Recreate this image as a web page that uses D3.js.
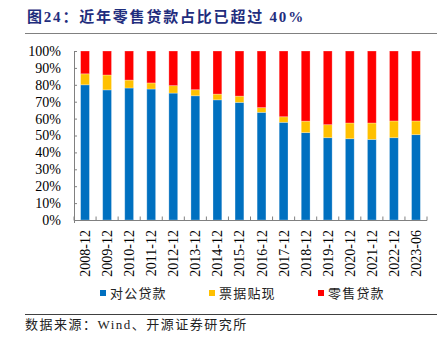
<!DOCTYPE html>
<html>
<head>
<meta charset="utf-8">
<script src="https://cdn.jsdelivr.net/npm/d3@7/dist/d3.min.js"></script>
<style>
  html, body { margin: 0; padding: 0; background: #fff; }
  svg { display: block; }
</style>
</head>
<body>
<svg id="chart" width="444" height="345"></svg>
<script>
// Loan mix by period (% of total loans)
const periods = ["2008-12","2009-12","2010-12","2011-12","2012-12","2013-12","2014-12","2015-12",
                 "2016-12","2017-12","2018-12","2019-12","2020-12","2021-12","2022-12","2023-06"];
const corporate = [80.0, 77.0, 78.1, 77.5, 75.1, 73.5, 71.1, 69.6, 63.7, 57.8, 51.7, 48.7, 48.1, 47.7, 48.7, 50.5];
const discount  = [6.5, 8.8, 4.7, 3.6, 4.4, 3.6, 3.4, 3.7, 2.8, 3.3, 6.8, 7.7, 9.3, 9.7, 9.9, 8.1];
const retail    = [13.5, 14.2, 17.2, 18.9, 20.5, 22.9, 25.5, 26.7, 33.5, 38.9, 41.5, 43.6, 42.6, 42.6, 41.4, 41.4];
const seriesNames = ["对公贷款", "票据贴现", "零售贷款"];
const seriesColors = ["#0070C0", "#FFC000", "#FF0000"];
const yTicks = [0, 10, 20, 30, 40, 50, 60, 70, 80, 90, 100];

const svg = d3.select("#chart");
const serif = "'Liberation Serif','Times New Roman','Noto Sans CJK SC',serif";
const cjk = "'Liberation Serif','Noto Sans CJK SC',sans-serif";

// Title and rule
svg.append("text")
  .attr("x", 27).attr("y", 22)
  .attr("font-family", cjk).attr("font-weight", "bold")
  .attr("font-size", 15).attr("letter-spacing", 1.8)
  .attr("fill", "#1f2d7d")
  .text("图24：近年零售贷款占比已超过 40%");
svg.append("line")
  .attr("x1", 25).attr("x2", 437).attr("y1", 33.5).attr("y2", 33.5)
  .attr("stroke", "#808080").attr("stroke-width", 1.2);

// Plot area
const plotL = 74, plotR = 427, plotT = 51, plotB = 220;
const x = d3.scaleBand().domain(periods).range([plotL, plotR]).paddingInner(0.6).paddingOuter(0.3);
const y = d3.scaleLinear().domain([0, 100]).range([plotB, plotT]);

// Stack the three series
const rows = periods.map((p, i) => ({ period: p, a: corporate[i], b: discount[i], c: retail[i] }));
const stack = d3.stack().keys(["a", "b", "c"])(rows);

svg.append("g").selectAll("g")
  .data(stack).join("g")
  .attr("fill", (d, i) => seriesColors[i])
  .selectAll("rect")
  .data(d => d).join("rect")
  .attr("x", d => x(d.data.period))
  .attr("width", x.bandwidth())
  .attr("y", d => y(d[1]))
  .attr("height", d => y(d[0]) - y(d[1]))
  .attr("stroke", "rgba(255,255,255,0.35)")
  .attr("stroke-width", 0.8);

// Y axis with inward ticks
const yAxis = d3.axisLeft(y).tickValues(yTicks).tickFormat(d => d + "%").tickSize(-3).tickPadding(13);
const gy = svg.append("g").attr("transform", `translate(${plotL},0)`).call(yAxis);
gy.select(".domain").attr("stroke", "#808080").attr("d", `M0.5,${plotT}V${plotB + 3}`);
gy.selectAll(".tick line").attr("stroke", "#808080");
gy.selectAll(".tick text")
  .attr("font-family", serif).attr("font-size", 14).attr("fill", "#000");

// X axis: boundary ticks pointing up, rotated labels
const gx = svg.append("g").attr("transform", `translate(0,${plotB})`);
gx.append("line")
  .attr("x1", plotL).attr("x2", plotR).attr("y1", 0.5).attr("y2", 0.5)
  .attr("stroke", "#808080");
gx.selectAll("line.tk")
  .data(d3.range(periods.length + 1)).join("line")
  .attr("class", "tk")
  .attr("x1", i => plotL + i * (plotR - plotL) / periods.length)
  .attr("x2", i => plotL + i * (plotR - plotL) / periods.length)
  .attr("y1", 0.5).attr("y2", -3.5)
  .attr("stroke", "#808080");
const xAxis = d3.axisBottom(x).tickSize(0).tickPadding(0);
const gxl = svg.append("g").attr("transform", `translate(0,${plotB})`).call(xAxis);
gxl.select(".domain").remove();
gxl.selectAll(".tick text")
  .attr("font-family", serif).attr("font-size", 14).attr("fill", "#000")
  .attr("text-anchor", "end")
  .attr("transform", "translate(5,10) rotate(-90)")
  .attr("dy", 0).attr("y", 0);

// Legend
const legendX = [100, 209, 318];
const lg = svg.append("g").selectAll("g").data(seriesNames).join("g")
  .attr("transform", (d, i) => `translate(${legendX[i]},290)`);
lg.append("rect").attr("width", 6).attr("height", 6).attr("fill", (d, i) => seriesColors[i]);
lg.append("text")
  .attr("x", 10).attr("y", 8)
  .attr("font-family", "'Noto Sans CJK SC',sans-serif").attr("font-size", 13)
  .attr("letter-spacing", 1.2).attr("fill", "#222")
  .text(d => d);

// Source note
svg.append("line")
  .attr("x1", 25).attr("x2", 437).attr("y1", 314.5).attr("y2", 314.5)
  .attr("stroke", "#404040").attr("stroke-width", 1);
svg.append("text")
  .attr("x", 25).attr("y", 329)
  .attr("font-family", cjk).attr("font-size", 13).attr("letter-spacing", 1.5)
  .attr("fill", "#222")
  .text("数据来源：Wind、开源证券研究所");
</script>
</body>
</html>
